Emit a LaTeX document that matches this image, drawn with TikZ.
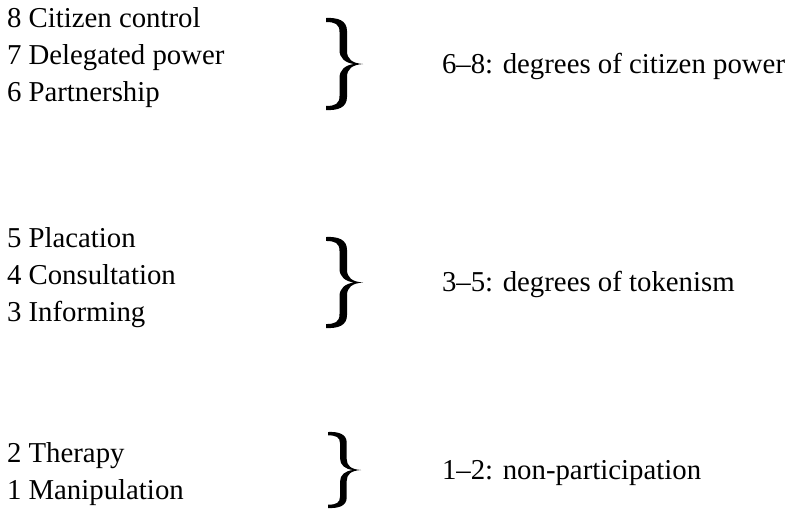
\documentclass[tikz,border=0pt]{standalone}
\usepackage{fontspec}
\setmainfont{Liberation Serif}
\tikzset{
  lbl/.style={anchor=base west, inner sep=0pt, outer sep=0pt, font=\fontsize{28.8}{34}\selectfont, text=black},
  bracefill/.style={fill=black, draw=none},
  rbrace/.pic={
    \path[bracefill]
      (0,0) .. controls (12,-0.6) and (21,2.5) .. (21,13)
      -- (21,33)
      .. controls (21,41) and (26,45.3) .. (37,46)
      .. controls (26,46.7) and (21,51) .. (21,59)
      -- (21,79)
      .. controls (21,89.5) and (12,92.6) .. (0,92)
      -- (0,88)
      .. controls (9,88) and (13.5,86) .. (13.5,78)
      -- (13.5,60)
      .. controls (13.5,52) and (19,47.2) .. (28,46)
      .. controls (19,44.8) and (13.5,40) .. (13.5,32)
      -- (13.5,14)
      .. controls (13.5,6) and (9,4) .. (0,4)
      -- cycle;
  }
}
\begin{document}
\begin{tikzpicture}[x=1pt, y=-1pt]
  \useasboundingbox (0,0) rectangle (792,512);
  % left column
  \node[lbl] (l8) at (7,27)  {8 Citizen control};
  \node[lbl] (l7) at (7,64)  {7 Delegated power};
  \node[lbl] (l6) at (7,101) {6 Partnership};
  \node[lbl] (l5) at (7,247) {5 Placation};
  \node[lbl] (l4) at (7,284) {4 Consultation};
  \node[lbl] (l3) at (7,321) {3 Informing};
  \node[lbl] (l2) at (7,462) {2 Therapy};
  \node[lbl] (l1) at (7,499) {1 Manipulation};
  % braces
  \pic (b1) at (326,18) {rbrace};
  \pic[yscale=91/92] (b2) at (326,237) {rbrace};
  \pic[xscale=33/37, yscale=76/92] (b3) at (328,432) {rbrace};
  % right labels
  \node[lbl] (g1) at (442,73)  {6–8: degrees of citizen power};
  \node[lbl] (g2) at (442,291) {3–5: degrees of tokenism};
  \node[lbl] (g3) at (442,479) {1–2: non-participation};
\end{tikzpicture}
\end{document}
